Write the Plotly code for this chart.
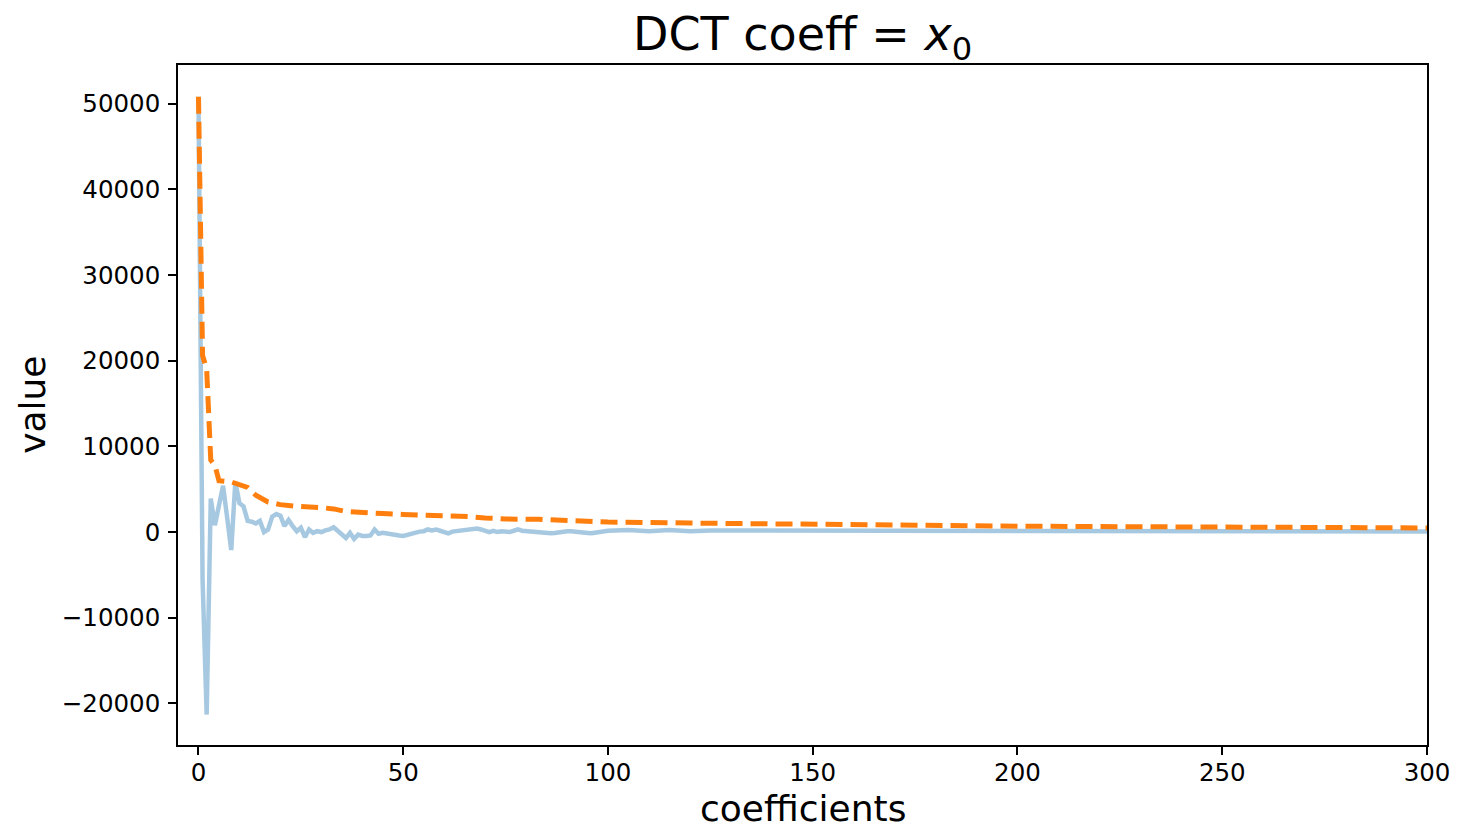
import plotly.graph_objects as go

# ---- data ----
blue_x = list(range(0, 101)) + list(range(105, 305, 5))
blue_y = [
    50800, -5500, -21300, 3900, 800, 3000, 5400, 1700, -2100, 5850,
    3370, 3000, 1300, 1200, 1000, 1300, 0, 300, 1800, 2100,
    1900, 700, 1400, 700, 100, 500, -600, 300, -100, 100,
    0, 200, 300, 550, 100, -300, -700, -100, -800, -300,
    -450, -450, -400, 300, -200, -100, -200, -250, -350, -400,
    -450, -300, -200, 0, 50, 100, 300, 200, 300, 150,
    0, -150, 50, 100, 100, 200, 250, 300, 400, 300,
    200, 0, 150, 0, 100, 50, 0, 150, 300, 150,
    100, 80, 50, 0, -50, -100, -150, -100, 0, 50,
    100, 80, 50, 80, 50, -100, -150, -80, 0, 100,
    150,
    250, 100, 250, 100, 180, 180, 100, 150, 120, 80,
    100, 60, 120, 80, 100, 60, 100, 80, 120, 90,
    100, 70, 100, 60, 90, 110, 80, 100, 70, 90,
    100, 60, 90, 80, 100, 70, 90, 60, 80, 70,
]

orange_x = [0, 1, 2, 3, 4, 5, 8, 10, 12, 14, 17, 20, 24, 30, 33, 36, 40, 45, 50,
            55, 62, 66, 70, 75, 83, 88, 95, 100, 120, 150, 180, 200, 250, 300]
orange_y = [50800, 20600, 19000, 8400, 7800, 6000, 5850, 5600, 5200, 4300, 3500,
            3200, 3000, 2850, 2700, 2400, 2250, 2150, 2060, 2000, 1900, 1800, 1650,
            1520, 1480, 1350, 1250, 1170, 1050, 900, 780, 680, 580, 480]

y_ticks = [-20000, -10000, 0, 10000, 20000, 30000, 40000, 50000]
y_tick_text = ["\u221220000", "\u221210000", "0", "10000", "20000", "30000", "40000", "50000"]
x_ticks = [0, 50, 100, 150, 200, 250, 300]

FONT = "DejaVu Sans"

fig = go.Figure()
fig.add_trace(go.Scatter(x=blue_x, y=blue_y, mode="lines",
                         line=dict(color="#a6c9e1", width=4.5),
                         showlegend=False, hoverinfo="skip"))
fig.add_trace(go.Scatter(x=orange_x, y=orange_y, mode="lines",
                         line=dict(color="#ff7f0e", width=5, dash="17px,8px"),
                         showlegend=False, hoverinfo="skip"))

axis_common = dict(showgrid=False, zeroline=False, showline=True, linecolor="black",
                   linewidth=1.6, mirror=True, ticks="outside", ticklen=8, tickwidth=1.6,
                   tickcolor="black", tickfont=dict(family=FONT, size=24.5, color="black"))

fig.update_layout(
    width=1473, height=826,
    margin=dict(l=178, r=46, t=65, b=81),
    paper_bgcolor="white", plot_bgcolor="white",
    title=dict(text="DCT coeff = <i>x</i><sub>0</sub>", x=0.5449, xanchor="center",
               y=1 - 34 / 826, yanchor="middle", yref="container",
               font=dict(family=FONT, size=46, color="black")),
    xaxis=dict(range=[-5, 300], tickvals=x_ticks, ticklabelstandoff=-3, **axis_common),
    yaxis=dict(range=[-24850, 54500], tickvals=y_ticks, ticktext=y_tick_text,
               ticklabelstandoff=3, **axis_common),
    annotations=[
        dict(text="coefficients", xref="paper", yref="paper", x=0.5, y=-0.093,
             xanchor="center", yanchor="middle", showarrow=False, borderpad=0,
             font=dict(family=FONT, size=36, color="black")),
        dict(text="value", xref="paper", yref="paper", x=-0.117, y=0.5,
             xanchor="center", yanchor="middle", showarrow=False, textangle=-90,
             font=dict(family=FONT, size=36, color="black")),
    ],
)

fig.write_html("out.html", config={"displayModeBar": False},
               post_script="document.body.style.margin='0';document.body.style.overflow='hidden';")
